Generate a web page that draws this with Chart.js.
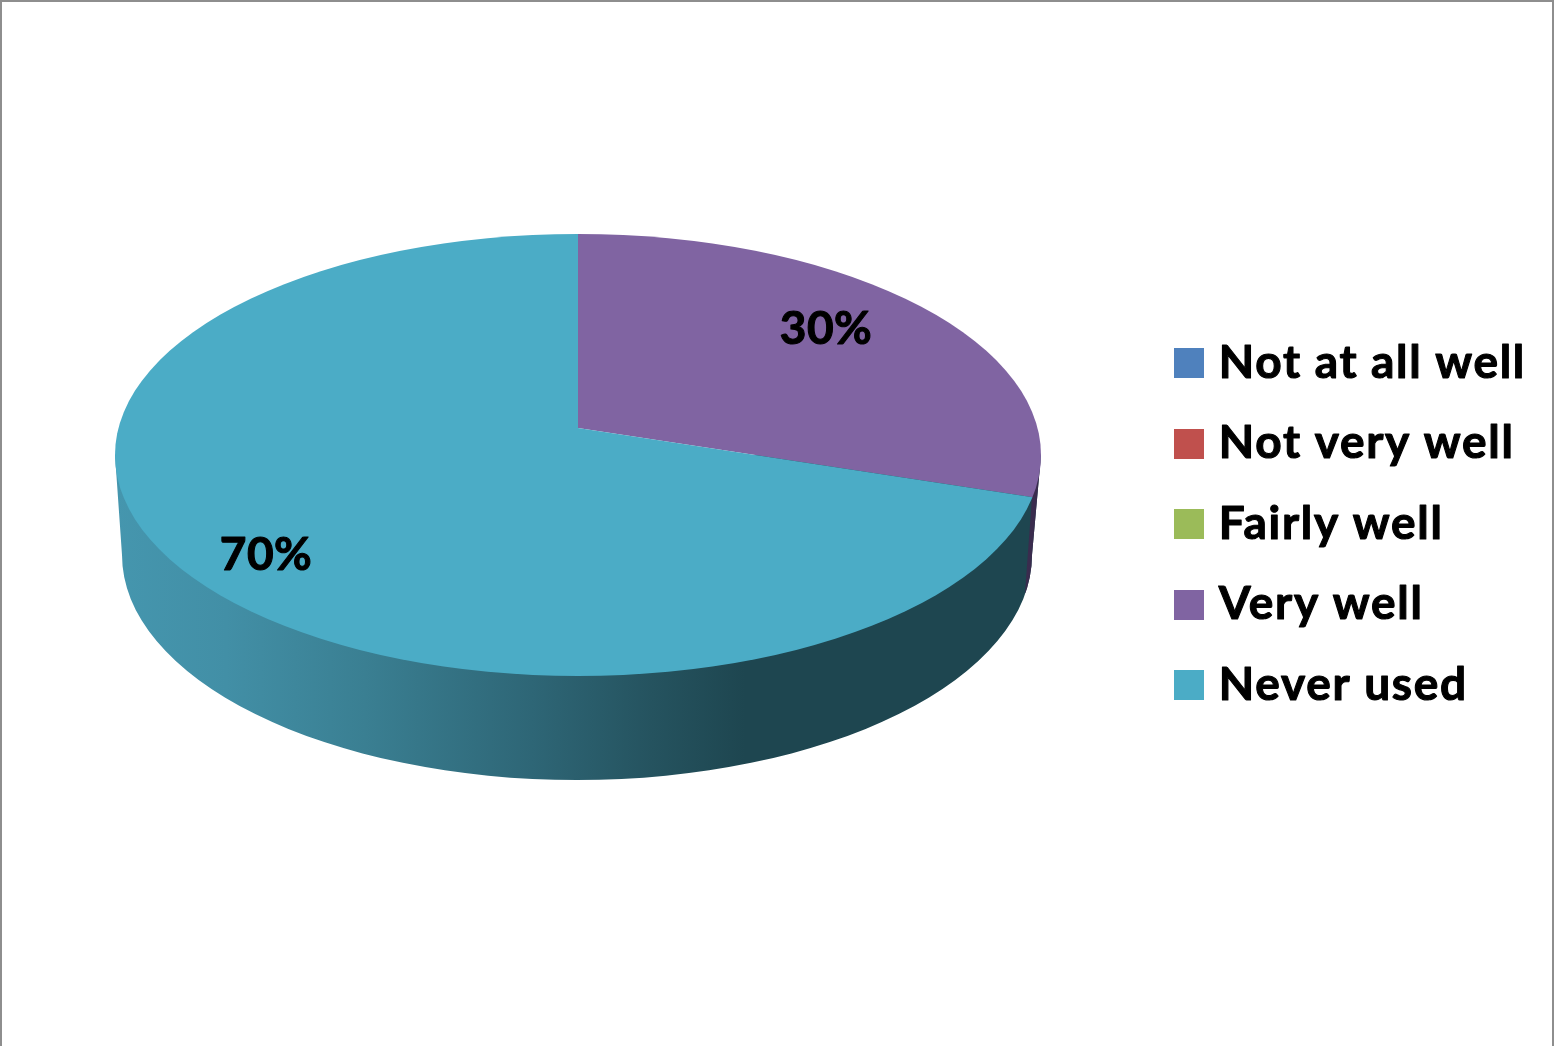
<!DOCTYPE html>
<html>
<head>
<meta charset="utf-8">
<style>html,body{margin:0;padding:0;background:#fff;overflow:hidden}canvas{display:block}</style>
<script src="https://cdn.jsdelivr.net/npm/chart.js@4"></script>
</head>
<body>
<canvas id="c" width="1554" height="1046"></canvas>
<script>
const categories = ['Not at all well', 'Not very well', 'Fairly well', 'Very well', 'Never used'];
const values = [0, 0, 0, 30, 70];
const colors = ['#4F81BD', '#C0504D', '#9BBB59', '#8064A2', '#4BACC6'];

const FONT = 'Lato';
const WEIGHT = 'bold';
const TOP = {cx: 578, cy: 455, rx: 463, ry: 221};
const BASE = {cx: 577, cy: 555, rx: 455, ry: 225};
const VERTEX = {x: 578, y: 428};
const labelOffsets = {3: [248, -99], 4: [-312, 127]};

function swatch(color) {
  const s = document.createElement('canvas');
  s.width = 30; s.height = 30;
  const g = s.getContext('2d');
  g.fillStyle = color;
  g.fillRect(0, 0, 30, 30);
  return s;
}

const canvas = document.getElementById('c');
const context = canvas.getContext('2d');
const plainFillText = context.fillText;
context.fillText = function (t, x, y, m) {
  this.lineWidth = 1.1;
  this.lineJoin = 'round';
  this.strokeStyle = '#000';
  this.strokeText(t, x, y);
  plainFillText.call(this, t, x, y);
};

const pie3d = {
  id: 'pie3d',
  beforeUpdate(chart) {
    chart.ctx.letterSpacing = '1.7px';
  },
  beforeDraw(chart) {
    const ctx = chart.ctx;
    ctx.letterSpacing = '1.7px';
    ctx.save();
    ctx.fillStyle = '#fff';
    ctx.fillRect(0, 0, chart.width, chart.height);
    ctx.fillStyle = '#8e8e8e';
    ctx.fillRect(0, 0, chart.width, 2);
    ctx.fillRect(0, 0, 2, chart.height);
    ctx.fillRect(chart.width - 2, 0, 2, chart.height);
    ctx.restore();
  },
  beforeDatasetsDraw(chart) {
    const ctx = chart.ctx;
    // wall
    ctx.save();
    ctx.beginPath();
    ctx.moveTo(TOP.cx - TOP.rx, TOP.cy);
    ctx.lineTo(BASE.cx - BASE.rx, BASE.cy);
    ctx.ellipse(BASE.cx, BASE.cy, BASE.rx, BASE.ry, 0, Math.PI, 0, true);
    ctx.lineTo(TOP.cx + TOP.rx, TOP.cy);
    ctx.closePath();
    ctx.clip();
    const g = ctx.createLinearGradient(115, 0, 1041, 0);
    const stops = [[0, '#4596AE'], [0.12, '#428FA6'], [0.27, '#3A7F92'], [0.45, '#2E6676'], [0.58, '#25535F'], [0.68, '#1E4650'], [1, '#1E4650']];
    stops.forEach(s => g.addColorStop(s[0], s[1]));
    ctx.fillStyle = g;
    ctx.fillRect(100, 400, 960, 400);
    ctx.fillStyle = '#3A2C4E';
    ctx.beginPath();
    ctx.moveTo(1043, 450);
    ctx.lineTo(1032, 497);
    ctx.lineTo(1025, 593);
    ctx.lineTo(1043, 593);
    ctx.closePath();
    ctx.fill();
    ctx.restore();
    // top face: the library's arcs, squashed about the vertex and cut to the top ellipse
    const arc = chart.getDatasetMeta(0).data[4];
    const R = 560 / arc.outerRadius;
    ctx.save();
    ctx.beginPath();
    ctx.ellipse(TOP.cx, TOP.cy, TOP.rx, TOP.ry, 0, 0, Math.PI * 2);
    ctx.clip();
    ctx.translate(VERTEX.x, VERTEX.y);
    ctx.scale(R, R * 0.468);
    ctx.translate(-arc.x, -arc.y);
  },
  afterDatasetsDraw(chart) {
    const ctx = chart.ctx;
    ctx.restore();
    ctx.save();
    ctx.letterSpacing = '0.5px';
    ctx.fillStyle = '#000';
    ctx.font = WEIGHT + ' 46px ' + FONT;
    ctx.textAlign = 'center';
    ctx.textBaseline = 'middle';
    values.forEach((v, i) => {
      if (v > 0) {
        const o = labelOffsets[i];
        ctx.fillText(v + '%', VERTEX.x + o[0], VERTEX.y + o[1]);
      }
    });
    ctx.restore();
  }
};

new Chart(canvas, {
  type: 'pie',
  data: {
    labels: categories,
    datasets: [{data: values, backgroundColor: colors, borderWidth: 0, clip: false}]
  },
  options: {
    responsive: false,
    animation: false,
    events: [],
    layout: {padding: {right: 18, top: 2}},
    plugins: {
      tooltip: {enabled: false},
      legend: {
        position: 'right',
        labels: {
          color: '#000',
          font: {family: FONT, weight: WEIGHT, size: 46},
          padding: 34.5,
          usePointStyle: true,
          pointStyleWidth: 14,
          generateLabels: chart => chart.data.labels.map((t, i) => ({
            text: t,
            index: i,
            fillStyle: colors[i],
            strokeStyle: colors[i],
            lineWidth: 0,
            pointStyle: swatch(colors[i]),
            hidden: false
          }))
        }
      }
    }
  },
  plugins: [pie3d]
});
</script>
</body>
</html>
